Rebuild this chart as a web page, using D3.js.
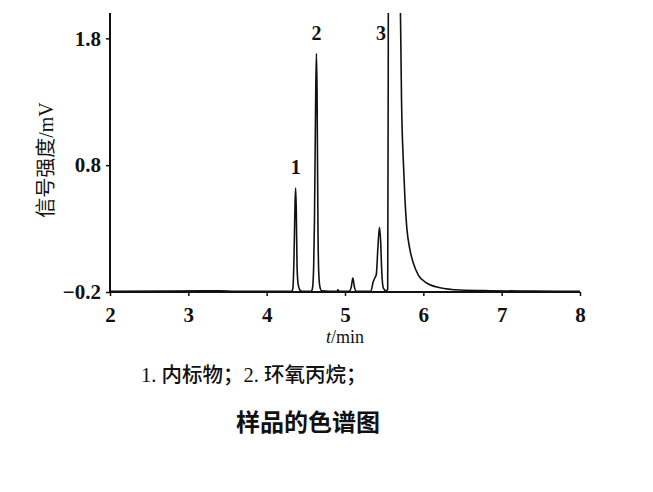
<!DOCTYPE html>
<html>
<head>
<meta charset="utf-8">
<script src="https://cdn.jsdelivr.net/npm/d3@7/dist/d3.min.js"></script>
<style>
  html, body { margin: 0; padding: 0; background: #fff; }
  svg { display: block; }
</style>
</head>
<body>
<svg id="chart" width="653" height="492"></svg>
<script>
// ---- data ----
const timeMin = [2.0, 2.8, 3.4, 3.6, 4.0, 4.32, 4.335, 4.35, 4.362, 4.37, 4.378, 4.388, 4.40, 4.42, 4.45,
  4.57, 4.585, 4.60, 4.61, 4.625, 4.635, 4.643, 4.655, 4.665, 4.68, 4.70,
  4.90, 4.91, 4.92, 5.05, 5.08, 5.10, 5.12, 5.14,
  5.33, 5.36, 5.38, 5.40, 5.42, 5.44, 5.455, 5.47, 5.49, 5.52, 5.545, 5.552, 5.556,
  5.60, 5.68, 5.708, 5.724, 5.744, 5.766, 5.788, 5.83, 5.872, 5.936, 6.043, 6.213, 6.468, 6.85, 7.4, 8.0];
const signalMV = [-0.195, -0.192, -0.19, -0.195, -0.195, -0.195, -0.17, 0.1, 0.5, 0.62, 0.45, 0.0, -0.13, -0.18, -0.195,
  -0.195, -0.17, 0.0, 0.35, 1.3, 1.68, 1.4, 0.3, -0.05, -0.16, -0.19,
  -0.195, -0.18, -0.195, -0.195, -0.16, -0.09, -0.16, -0.195,
  -0.195, -0.12, -0.09, -0.06, 0.15, 0.31, 0.2, -0.05, -0.17, -0.19, -0.18, 1.5, 3.5,
  6.0, 6.0, 2.0, 1.235, 0.841, 0.525, 0.313, 0.131, 0.029, -0.066, -0.129, -0.166, -0.184, -0.19, -0.193, -0.195];
const xTicks = [2, 3, 4, 5, 6, 7, 8];
const yTicks = [-0.2, 0.8, 1.8];
const yTickLabels = ["\u22120.2", "0.8", "1.8"];
const peakLabels = [
  { label: "1", t: 4.37, v: 0.62 },
  { label: "2", t: 4.635, v: 1.68 },
  { label: "3", t: 5.46, v: 1.68 }
];
const yTitle = "信号强度/mV";
const xTitle = "min";
const legendText = "1. 内标物；2. 环氧丙烷；";
const chartTitle = "样品的色谱图";

// ---- drawing ----
const svg = d3.select("#chart");
const x = d3.scaleLinear().domain([2, 8]).range([110, 580]);
const y = d3.scaleLinear().domain([-0.2, 2.0]).range([292, 13]);
const serif = "'Liberation Serif', 'Noto Sans CJK SC', serif";
const ink = "#111";

svg.append("defs").append("clipPath").attr("id", "plotclip")
  .append("rect").attr("x", 108).attr("y", 13).attr("width", 476).attr("height", 282);

const pts = timeMin.map((t, i) => [t, signalMV[i]]);
svg.append("path")
  .datum(pts)
  .attr("clip-path", "url(#plotclip)")
  .attr("fill", "none")
  .attr("stroke", ink)
  .attr("stroke-width", 1.6)
  .attr("stroke-linejoin", "round")
  .attr("d", d3.line().x(d => x(d[0])).y(d => y(d[1])).curve(d3.curveMonotoneX));

// axes
const xAxis = d3.axisBottom(x).tickValues(xTicks).tickSize(4).tickPadding(11).tickFormat(d3.format("d"));
const gx = svg.append("g").attr("transform", `translate(0,${y(-0.2)})`).call(xAxis);
const yAxis = d3.axisLeft(y).tickValues(yTicks).tickSize(4).tickPadding(5)
  .tickFormat((d, i) => yTickLabels[i]);
const gy = svg.append("g").attr("transform", `translate(${x(2)},0)`).call(yAxis);
[gx, gy].forEach(g => {
  g.select(".domain").attr("stroke", ink).attr("stroke-width", 2);
  g.selectAll(".tick line").attr("stroke", ink).attr("stroke-width", 1.5);
  g.selectAll(".tick text").attr("fill", ink)
    .style("font-family", serif).style("font-size", "21px").style("font-weight", "bold");
});
gx.select(".domain").attr("d", `M${x(2)},0H${x(8)}`);
gy.select(".domain").attr("d", `M0,${y(2.0)}V${y(-0.2)}`);

// peak labels
svg.selectAll(".peak").data(peakLabels).enter().append("text")
  .attr("x", d => x(d.t)).attr("y", d => y(d.v) - 14)
  .attr("text-anchor", "middle")
  .style("font-family", serif).style("font-size", "20px").style("font-weight", "bold")
  .attr("fill", ink).text(d => d.label);

// axis titles
svg.append("text")
  .attr("transform", "translate(53,160) rotate(-90)")
  .attr("text-anchor", "middle")
  .style("font-family", serif).style("font-size", "20px")
  .attr("fill", ink).text(yTitle);

const xt = svg.append("text")
  .attr("x", 345).attr("y", 343).attr("text-anchor", "middle")
  .style("font-family", serif).style("font-size", "18px").attr("fill", ink);
xt.append("tspan").style("font-style", "italic").text("t");
xt.append("tspan").text("/" + xTitle);

// legend and title
svg.append("text")
  .attr("x", 141).attr("y", 382)
  .style("font-family", serif).style("font-size", "20.5px").style("font-weight", "500")
  .attr("fill", ink).text(legendText);

svg.append("text")
  .attr("x", 308).attr("y", 431).attr("text-anchor", "middle")
  .style("font-family", "'Noto Sans CJK SC', sans-serif").style("font-size", "24px").style("font-weight", "bold")
  .attr("fill", ink).text(chartTitle);
</script>
</body>
</html>
